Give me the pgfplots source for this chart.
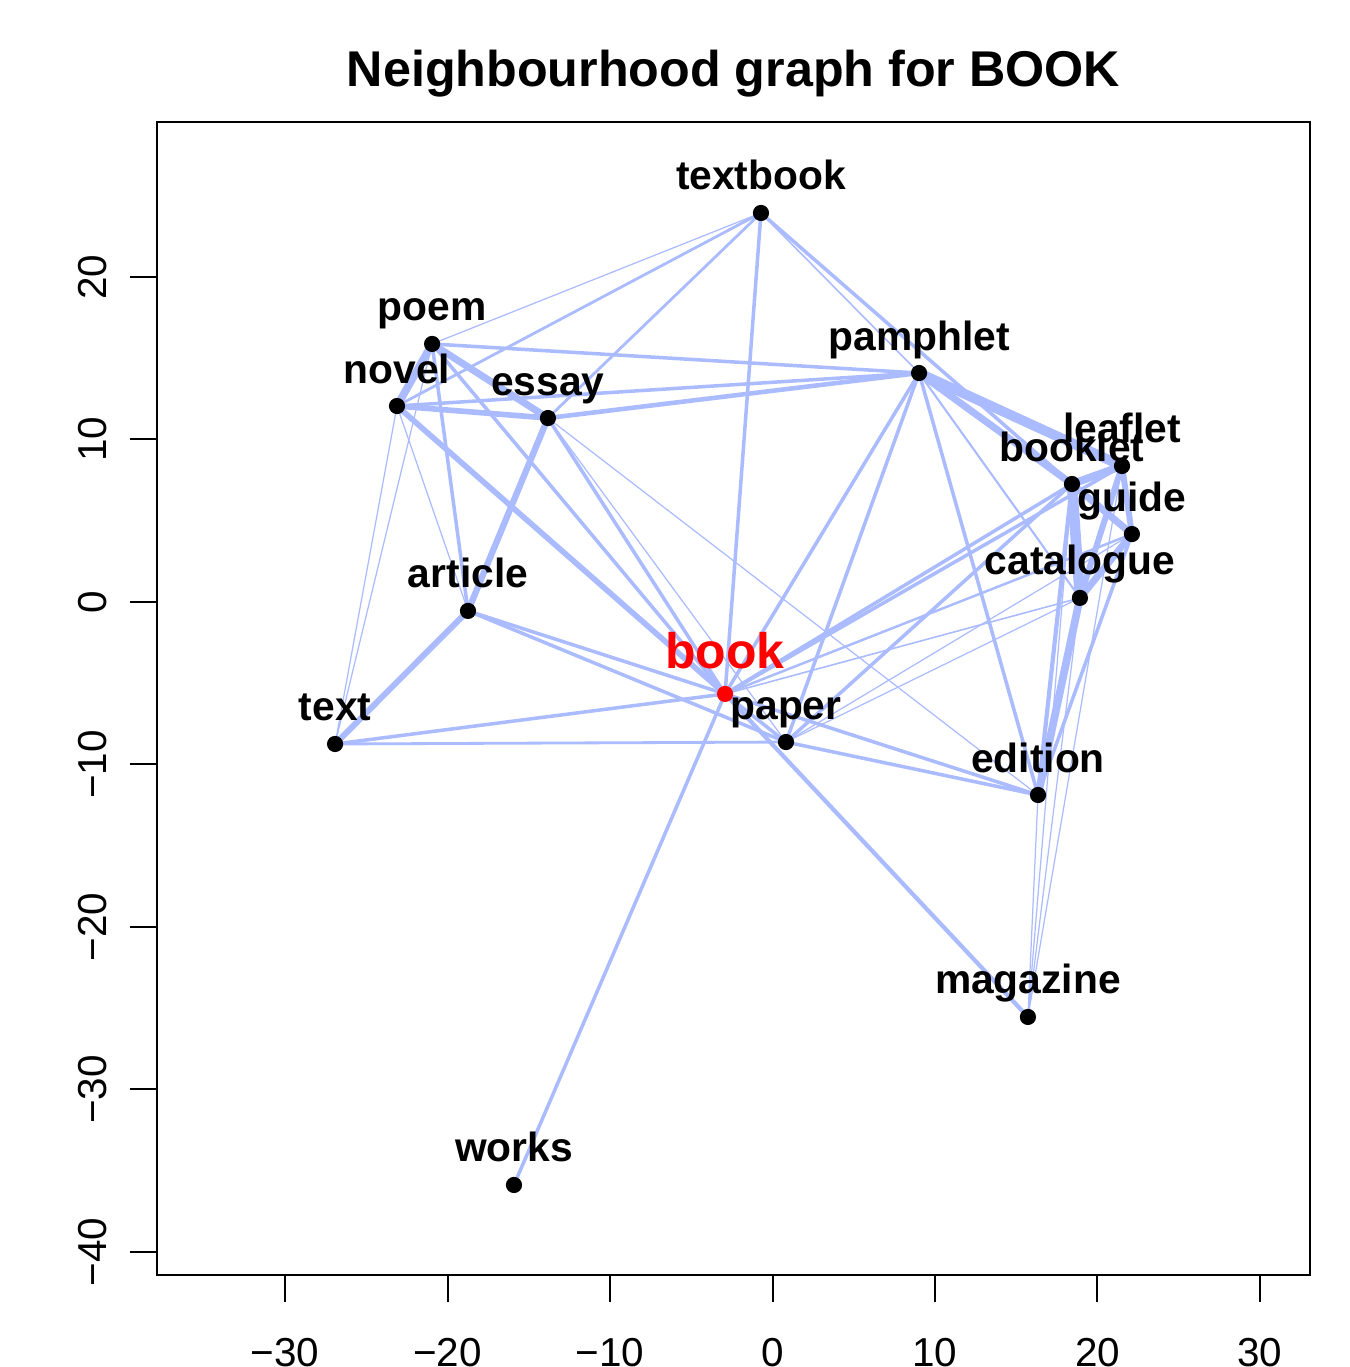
\documentclass[border=0pt]{standalone}
\usepackage{pgfplots}
\pgfplotsset{compat=1.18}
\usepackage{fontspec}
\setmainfont{Liberation Sans}
\definecolor{edgecol}{RGB}{170,187,255}
\definecolor{bookred}{RGB}{255,0,0}
\pgfplotstableread{
x y label
-0.71 23.94 textbook
-20.95 15.88 poem
-23.11 12.06 novel
-13.82 11.32 essay
9.02 14.09 pamphlet
21.51 8.37 leaflet
18.43 7.26 booklet
22.12 4.18 guide
18.92 0.25 catalogue
-18.74 -0.55 article
0.83 -8.62 paper
-26.92 -8.74 text
16.34 -11.88 edition
15.72 -25.54 magazine
-15.91 -35.88 works
}\nodetable
\pgfplotstableread{
x y label
-2.92 -5.66 book
}\booktable
\begin{document}
\begin{tikzpicture}
\begin{axis}[
  name=ax,
  width=11.53cm, height=11.53cm, scale only axis,
  xmin=-37.88, xmax=33.08, ymin=-41.42, ymax=29.54,
  axis line style={line width=0.57pt},
  every tick/.style={line width=0.57pt, black},
  major tick length=0.27cm, tick align=outside,
  xtick pos=bottom, ytick pos=left,
  xtick={-30,-20,-10,0,10,20,30},
  xticklabels={−30,−20,−10,0,10,20,30},
  ytick={-40,-30,-20,-10,0,10,20},
  yticklabels={−40,−30,−20,−10,0,10,20},
  ticklabel style={font=\fontsize{11.5}{13}\selectfont},
  xticklabel style={anchor=base, yshift=-0.64cm},
  yticklabel style={rotate=90, anchor=base, yshift=0.24cm},
  title={Neighbourhood graph for BOOK},
  title style={at={(0.5,1)}, anchor=base, yshift=0.14cm, font=\fontsize{14.3}{16}\selectfont\bfseries},
  edge/.style={draw=edgecol, mark=none, line cap=round},
]
% thin edges
\addplot[edge, line width=0.35pt] coordinates {(-0.71,23.94) (-20.95,15.88)};
\addplot[edge, line width=0.45pt] coordinates {(-0.71,23.94) (9.02,14.09)};
\addplot[edge, line width=0.35pt] coordinates {(-20.95,15.88) (-26.92,-8.74)};
\addplot[edge, line width=0.35pt] coordinates {(-23.11,12.06) (-18.74,-0.55)};
\addplot[edge, line width=0.35pt] coordinates {(-23.11,12.06) (-26.92,-8.74)};
\addplot[edge, line width=0.35pt] coordinates {(-13.82,11.32) (0.83,-8.62)};
\addplot[edge, line width=0.35pt] coordinates {(-13.82,11.32) (16.34,-11.88)};
\addplot[edge, line width=0.35pt] coordinates {(0.83,-8.62) (18.92,0.25)};
\addplot[edge, line width=0.45pt] coordinates {(-2.92,-5.66) (18.92,0.25)};
\addplot[edge, line width=0.35pt] coordinates {(15.72,-25.54) (16.34,-11.88)};
\addplot[edge, line width=0.35pt] coordinates {(15.72,-25.54) (21.51,8.37)};
\addplot[edge, line width=0.35pt] coordinates {(15.72,-25.54) (18.43,7.26)};
\addplot[edge, line width=0.35pt] coordinates {(15.72,-25.54) (18.92,0.25)};
\addplot[edge, line width=0.35pt] coordinates {(0.83,-8.62) (22.12,4.18)};
\addplot[edge, line width=0.6pt] coordinates {(9.02,14.09) (18.92,0.25)};
% medium edges
\addplot[edge, line width=0.8pt] coordinates {(-0.71,23.94) (-23.11,12.06)};
\addplot[edge, line width=0.8pt] coordinates {(-0.71,23.94) (-13.82,11.32)};
\addplot[edge, line width=1.0pt] coordinates {(-0.71,23.94) (-2.92,-5.66)};
\addplot[edge, line width=1.0pt] coordinates {(-0.71,23.94) (18.43,7.26)};
\addplot[edge, line width=1.0pt] coordinates {(-20.95,15.88) (9.02,14.09)};
\addplot[edge, line width=1.0pt] coordinates {(-20.95,15.88) (-18.74,-0.55)};
\addplot[edge, line width=1.0pt] coordinates {(-20.95,15.88) (-2.92,-5.66)};
\addplot[edge, line width=1.0pt] coordinates {(-23.11,12.06) (9.02,14.09)};
\addplot[edge, line width=1.0pt] coordinates {(-13.82,11.32) (-2.92,-5.66)};
\addplot[edge, line width=1.0pt] coordinates {(-18.74,-0.55) (-2.92,-5.66)};
\addplot[edge, line width=1.0pt] coordinates {(-18.74,-0.55) (0.83,-8.62)};
\addplot[edge, line width=1.0pt] coordinates {(-26.92,-8.74) (-2.92,-5.66)};
\addplot[edge, line width=0.8pt] coordinates {(-26.92,-8.74) (0.83,-8.62)};
\addplot[edge, line width=1.0pt] coordinates {(-2.92,-5.66) (-15.91,-35.88)};
\addplot[edge, line width=1.2pt] coordinates {(-2.92,-5.66) (15.72,-25.54)};
\addplot[edge, line width=1.0pt] coordinates {(-2.92,-5.66) (0.83,-8.62)};
\addplot[edge, line width=1.0pt] coordinates {(-2.92,-5.66) (18.43,7.26)};
\addplot[edge, line width=1.0pt] coordinates {(-2.92,-5.66) (21.51,8.37)};
\addplot[edge, line width=0.7pt] coordinates {(-2.92,-5.66) (22.12,4.18)};
\addplot[edge, line width=1.0pt] coordinates {(-2.92,-5.66) (16.34,-11.88)};
\addplot[edge, line width=1.0pt] coordinates {(9.02,14.09) (16.34,-11.88)};
\addplot[edge, line width=1.0pt] coordinates {(9.02,14.09) (-2.92,-5.66)};
\addplot[edge, line width=1.0pt] coordinates {(9.02,14.09) (0.83,-8.62)};
\addplot[edge, line width=1.0pt] coordinates {(0.83,-8.62) (18.43,7.26)};
\addplot[edge, line width=1.0pt] coordinates {(0.83,-8.62) (16.34,-11.88)};
\addplot[edge, line width=1.0pt] coordinates {(22.12,4.18) (16.34,-11.88)};
\addplot[edge, line width=1.2pt] coordinates {(18.43,7.26) (16.34,-11.88)};
% thick edges
\addplot[edge, line width=2.2pt] coordinates {(-20.95,15.88) (-23.11,12.06)};
\addplot[edge, line width=2.0pt] coordinates {(-20.95,15.88) (-13.82,11.32)};
\addplot[edge, line width=1.6pt] coordinates {(-23.11,12.06) (-13.82,11.32)};
\addplot[edge, line width=1.6pt] coordinates {(-23.11,12.06) (-2.92,-5.66)};
\addplot[edge, line width=1.3pt] coordinates {(-13.82,11.32) (9.02,14.09)};
\addplot[edge, line width=1.8pt] coordinates {(-13.82,11.32) (-18.74,-0.55)};
\addplot[edge, line width=1.7pt] coordinates {(-18.74,-0.55) (-26.92,-8.74)};
\addplot[edge, line width=2.0pt] coordinates {(9.02,14.09) (18.43,7.26)};
\addplot[edge, line width=2.2pt] coordinates {(21.51,8.37) (18.43,7.26)};
\addplot[edge, line width=1.7pt] coordinates {(21.51,8.37) (22.12,4.18)};
\addplot[edge, line width=1.7pt] coordinates {(21.51,8.37) (18.92,0.25)};
\addplot[edge, line width=2.0pt] coordinates {(18.43,7.26) (22.12,4.18)};
\addplot[edge, line width=2.0pt] coordinates {(22.12,4.18) (18.92,0.25)};
\addplot[edge, line width=2.2pt] coordinates {(18.92,0.25) (16.34,-11.88)};
\addplot[edge, line width=2.8pt] coordinates {(9.02,14.09) (21.51,8.37)};
\addplot[edge, line width=3.0pt] coordinates {(18.43,7.26) (18.92,0.25)};
% nodes
\addplot[only marks, mark=*, mark size=2.1pt, black,
  nodes near coords, point meta=explicit symbolic,
  every node near coord/.style={anchor=base, yshift=0.23cm, black, font=\fontsize{11.6}{13}\selectfont\bfseries}]
  table[meta=label] {\nodetable};
\addplot[only marks, mark=*, mark size=2.1pt, bookred,
  nodes near coords, point meta=explicit symbolic,
  every node near coord/.style={anchor=base, yshift=0.25cm, bookred, font=\fontsize{14.2}{16}\selectfont\bfseries}]
  table[meta=label] {\booktable};
\end{axis}
\pgfresetboundingbox
\path ([shift={(-1.57cm,-0.92cm)}]ax.south west) rectangle ([shift={(0.39cm,1.22cm)}]ax.north east);
\end{tikzpicture}
\end{document}
